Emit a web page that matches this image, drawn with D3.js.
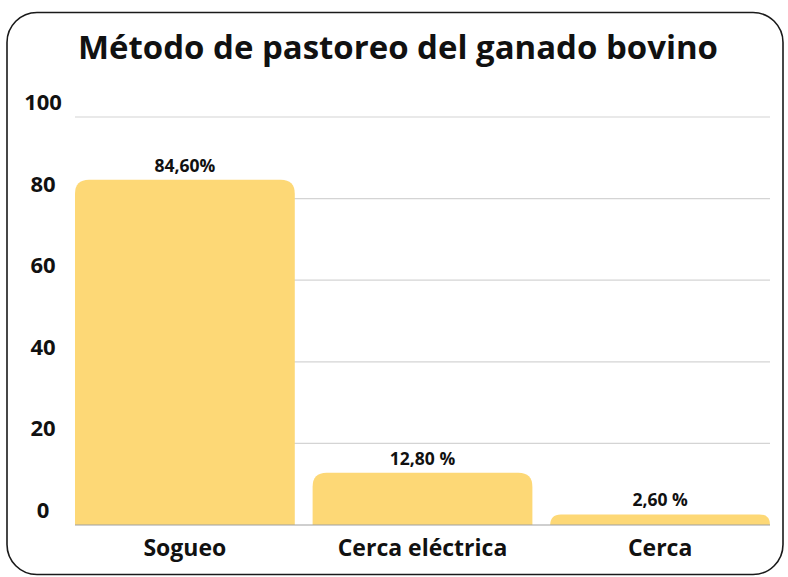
<!DOCTYPE html>
<html>
<head>
<meta charset="utf-8">
<script src="https://cdn.jsdelivr.net/npm/d3@7"></script>
<style>
  body { margin: 0; background: #fff; }
  text { font-family: "Open Sans", sans-serif; font-weight: 700; fill: #111; }
</style>
</head>
<body>
<div id="wrapper"></div>
<script>
const categories = ["Sogueo", "Cerca eléctrica", "Cerca"]
const values = [84.6, 12.8, 2.6]
const valueLabels = ["84,60%", "12,80 %", "2,60 %"]
const yTicks = [0, 20, 40, 60, 80, 100]
const title = "Método de pastoreo del ganado bovino"

const dimensions = {
  width: 788,
  height: 577,
  margin: { top: 117, right: 18, bottom: 52, left: 75 },
}
dimensions.boundedWidth = dimensions.width - dimensions.margin.left - dimensions.margin.right
dimensions.boundedHeight = dimensions.height - dimensions.margin.top - dimensions.margin.bottom

const svg = d3.select("#wrapper")
  .append("svg")
  .attr("width", dimensions.width)
  .attr("height", dimensions.height)

// frame
svg.append("rect")
  .attr("x", 7)
  .attr("y", 12.5)
  .attr("width", 776)
  .attr("height", 562)
  .attr("rx", 30)
  .attr("fill", "none")
  .attr("stroke", "#1a1a1a")
  .attr("stroke-width", 1.6)

svg.append("text")
  .attr("x", 398)
  .attr("y", 59)
  .attr("text-anchor", "middle")
  .style("font-size", "32px")
  .attr("textLength", 640)
  .attr("lengthAdjust", "spacingAndGlyphs")
  .text(title)

const bounds = svg.append("g")
  .attr("transform", `translate(${dimensions.margin.left},${dimensions.margin.top})`)

const xScale = d3.scaleBand()
  .domain(categories)
  .range([0, dimensions.boundedWidth])
  .paddingInner(0.075)
  .paddingOuter(0)

const yScale = d3.scaleLinear()
  .domain([0, 100])
  .range([dimensions.boundedHeight, 0])

// gridlines
bounds.append("g")
  .selectAll("line")
  .data(yTicks.filter(d => d > 0))
  .join("line")
  .attr("x1", 0)
  .attr("x2", dimensions.boundedWidth)
  .attr("y1", d => yScale(d))
  .attr("y2", d => yScale(d))
  .attr("stroke", "#d4d4d4")
  .attr("stroke-width", 1.2)

// y labels
bounds.append("g")
  .selectAll("text")
  .data(yTicks)
  .join("text")
  .attr("x", -32)
  .attr("y", d => yScale(d) - 7)
  .attr("text-anchor", "middle")
  .style("font-size", "22px")
  .text(d => d)

// bars with rounded tops
const roundTop = (x, y, w, h) => {
  const r = Math.min(14, h, w / 2)
  return `M${x},${y + h} V${y + r} Q${x},${y} ${x + r},${y} H${x + w - r} Q${x + w},${y} ${x + w},${y + r} V${y + h} Z`
}

const data = categories.map((c, i) => ({ cat: c, val: values[i], label: valueLabels[i] }))

bounds.append("g")
  .selectAll("path")
  .data(data)
  .join("path")
  .attr("d", d => roundTop(xScale(d.cat), yScale(d.val), xScale.bandwidth(), yScale(0) - yScale(d.val)))
  .attr("fill", "#fdd876")

// baseline
bounds.append("line")
  .attr("x1", 0)
  .attr("x2", dimensions.boundedWidth)
  .attr("y1", yScale(0))
  .attr("y2", yScale(0))
  .attr("stroke", "#a0a0a0")
  .attr("stroke-width", 1.2)

// value labels
bounds.append("g")
  .selectAll("text")
  .data(data)
  .join("text")
  .attr("x", d => xScale(d.cat) + xScale.bandwidth() / 2)
  .attr("y", d => yScale(d.val) - 8)
  .attr("text-anchor", "middle")
  .style("font-size", "17.5px")
  .text(d => d.label)

// category labels
bounds.append("g")
  .selectAll("text")
  .data(categories)
  .join("text")
  .attr("x", d => xScale(d) + xScale.bandwidth() / 2)
  .attr("y", dimensions.boundedHeight + 31)
  .attr("text-anchor", "middle")
  .style("font-size", "23px")
  .text(d => d)
</script>
</body>
</html>
